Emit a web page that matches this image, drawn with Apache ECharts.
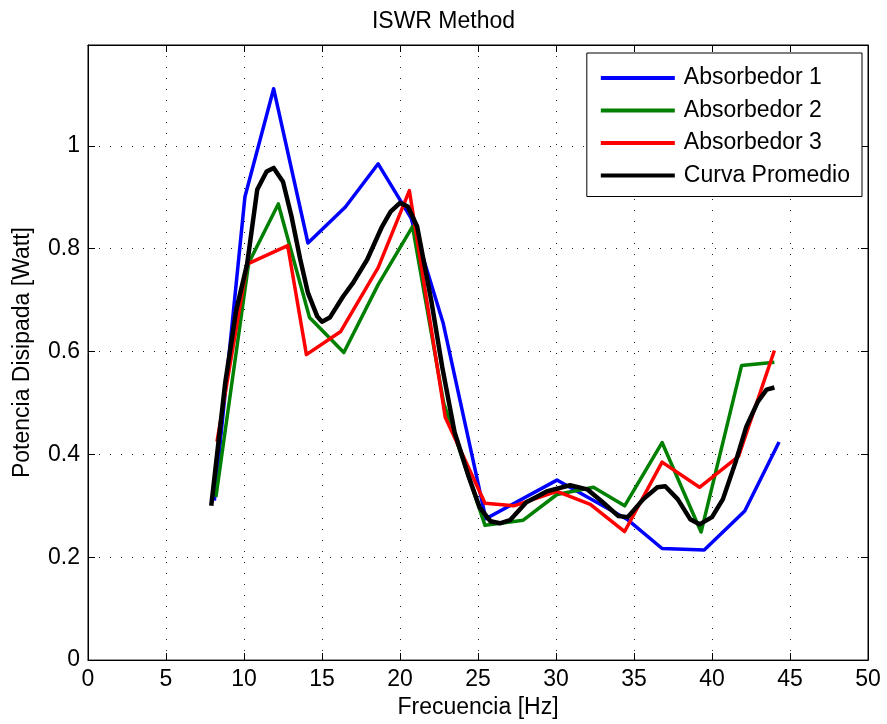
<!DOCTYPE html>
<html>
<head>
<meta charset="utf-8">
<script src="https://cdn.jsdelivr.net/npm/echarts@6/dist/echarts.min.js"></script>
<style>
html,body{margin:0;padding:0;background:#fff;}
#chart{width:887px;height:724px;}
</style>
</head>
<body>
<div id="chart"></div>
<script>
var titleText = 'ISWR Method';
var xName = 'Frecuencia [Hz]';
var yName = 'Potencia Disipada [Watt]';
var seriesNames = ['Absorbedor 1', 'Absorbedor 2', 'Absorbedor 3', 'Curva Promedio'];

var abs1X = [8.1, 10.06, 11.9, 14.1, 16.5, 18.6, 20.7, 22.76, 25.5, 30.06, 34.55, 36.8, 39.5, 42.1, 44.3];
var abs1Y = [0.31, 0.901, 1.111, 0.811, 0.881, 0.965, 0.86, 0.656, 0.275, 0.35, 0.274, 0.217, 0.214, 0.29, 0.424];

var abs2X = [8.2, 10.3, 12.2, 14.2, 16.4, 18.6, 20.8, 22.8, 25.45, 27.9, 30.06, 32.4, 34.4, 36.8, 39.3, 41.9, 44.0];
var abs2Y = [0.317, 0.772, 0.887, 0.666, 0.598, 0.73, 0.843, 0.50, 0.262, 0.272, 0.322, 0.336, 0.30, 0.423, 0.249, 0.573, 0.579];

var abs3X = [8.27, 10.2, 12.8, 14.0, 16.2, 18.6, 20.6, 22.9, 25.45, 27.3, 30.06, 32.2, 34.4, 36.8, 39.2, 41.7, 44.0];
var abs3Y = [0.425, 0.77, 0.806, 0.594, 0.639, 0.763, 0.913, 0.472, 0.305, 0.30, 0.328, 0.303, 0.25, 0.385, 0.336, 0.396, 0.602];

var avgX = [7.9, 8.8, 9.5, 10.2, 10.85, 11.45, 11.9, 12.5, 13.05, 13.6, 14.1, 14.7, 15.0, 15.5, 16.35, 17.0, 17.9, 18.85, 19.4, 20.0, 20.5, 21.1, 22.0, 22.7, 23.5, 24.4, 25.1, 25.8, 26.4, 27.05, 28.1, 29.4, 30.9, 32.0, 33.0, 34.0, 34.6, 35.6, 36.5, 37.0, 37.8, 38.6, 39.2, 40.0, 40.7, 41.5, 42.2, 42.95, 43.5, 44.0];
var avgY = [0.30, 0.54, 0.68, 0.77, 0.915, 0.95, 0.957, 0.93, 0.862, 0.78, 0.714, 0.668, 0.658, 0.666, 0.707, 0.734, 0.779, 0.843, 0.872, 0.889, 0.882, 0.843, 0.70, 0.571, 0.443, 0.357, 0.297, 0.27, 0.266, 0.272, 0.307, 0.328, 0.34, 0.332, 0.307, 0.28, 0.278, 0.313, 0.336, 0.338, 0.313, 0.274, 0.264, 0.278, 0.313, 0.384, 0.454, 0.503, 0.526, 0.530];

var colors = ['#0000ff', '#008000', '#ff0000', '#000000'];
var widths = [3.5, 3.5, 3.5, 4.5];

function zip(xs, ys) { return xs.map(function (x, i) { return [x, ys[i]]; }); }
var allData = [zip(abs1X, abs1Y), zip(abs2X, abs2Y), zip(abs3X, abs3Y), zip(avgX, avgY)];

var FONT = 'Liberation Sans, Arial, sans-serif';
var FS = 23;
var chart = echarts.init(document.getElementById('chart'), null, {renderer: 'canvas'});

var gridLine = {show: true, lineStyle: {color: '#222', width: 1, type: [1, 10]}};

var option = {
  animation: false,
  backgroundColor: '#fff',
  title: {
    text: titleText, left: 'center', top: 5,
    textStyle: {fontFamily: FONT, fontSize: FS, fontWeight: 'normal', color: '#000'}
  },
  grid: {left: 88, right: 19, top: 45, bottom: 63, show: true, borderColor: '#000', borderWidth: 1, containLabel: false},
  legend: {
    orient: 'vertical', right: 25, top: 53,
    data: seriesNames,
    icon: 'rect', itemWidth: 74, itemHeight: 4, itemGap: 8.5,
    padding: [13, 12, 9, 14],
    borderColor: '#000', borderWidth: 1, backgroundColor: '#fff',
    textStyle: {fontFamily: FONT, fontSize: FS, color: '#000', lineHeight: 24, padding: [0, 0, 0, 4]}
  },
  xAxis: [{
    type: 'value', min: 0, max: 50, interval: 5,
    name: xName, nameLocation: 'middle', nameGap: 35,
    nameTextStyle: {fontFamily: FONT, fontSize: FS, color: '#000'},
    axisLine: {show: true, onZero: false, lineStyle: {color: '#000', width: 1}},
    axisTick: {show: true, inside: true, length: 7, lineStyle: {color: '#000'}},
    axisLabel: {fontFamily: FONT, fontSize: FS, color: '#000', margin: 8},
    splitLine: gridLine
  }, {
    type: 'value', min: 0, max: 50, interval: 5, position: 'top',
    axisLine: {show: true, onZero: false, lineStyle: {color: '#000', width: 1}},
    axisTick: {show: true, inside: true, length: 7, lineStyle: {color: '#000'}},
    axisLabel: {show: false}, splitLine: {show: false}
  }],
  yAxis: [{
    type: 'value', min: 0, max: 1.196, interval: 0.2,
    name: yName, nameLocation: 'middle', nameGap: 54, nameRotate: 90,
    nameTextStyle: {fontFamily: FONT, fontSize: FS, color: '#000'},
    axisLine: {show: true, onZero: false, lineStyle: {color: '#000', width: 1}},
    axisTick: {show: true, inside: true, length: 7, lineStyle: {color: '#000'}},
    axisLabel: {
      fontFamily: FONT, fontSize: FS, color: '#000', margin: 8, showMaxLabel: false,
      formatter: function (v) {
        if (Math.abs(v * 5 - Math.round(v * 5)) > 1e-6) return '';
        return String(+v.toFixed(1));
      }
    },
    splitLine: gridLine
  }, {
    type: 'value', min: 0, max: 1.196, interval: 0.2, position: 'right',
    axisLine: {show: true, onZero: false, lineStyle: {color: '#000', width: 1}},
    axisTick: {show: true, inside: true, length: 7, lineStyle: {color: '#000'}},
    axisLabel: {show: false}, splitLine: {show: false}
  }],
  series: seriesNames.map(function (name, i) {
    return {
      name: name, type: 'line', data: allData[i],
      xAxisIndex: 0, yAxisIndex: 0,
      showSymbol: false, symbol: 'none', smooth: false,
      lineStyle: {color: colors[i], width: widths[i], join: 'round'},
      itemStyle: {color: colors[i]},
      z: 2 + i
    };
  })
};
chart.setOption(option);
</script>
</body>
</html>
